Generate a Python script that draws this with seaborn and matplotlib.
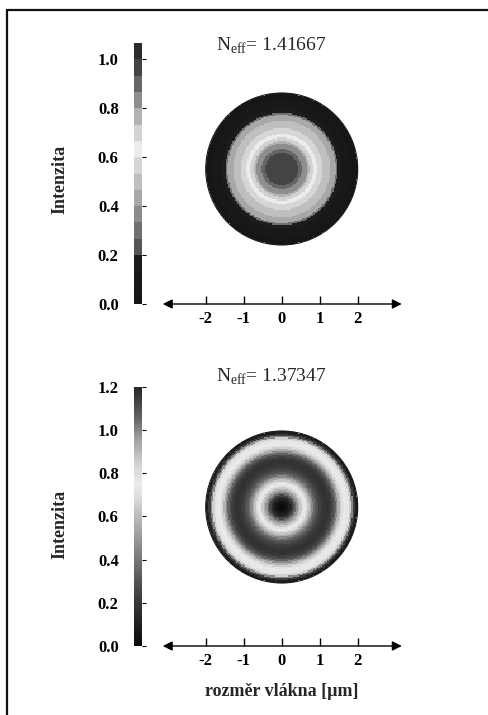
import numpy as np
import matplotlib
matplotlib.use("Agg")
import matplotlib.pyplot as plt
import seaborn as sns
from matplotlib.colors import ListedColormap, LinearSegmentedColormap
from matplotlib.patches import Circle
from matplotlib.lines import Line2D

# ---------------- data ----------------
RADII_UM = [0.00, 0.05, 0.10, 0.15, 0.20, 0.25, 0.30, 0.35, 0.40, 0.45,
            0.50, 0.55, 0.60, 0.65, 0.70, 0.75, 0.80, 0.85, 0.90, 0.95,
            1.00, 1.05, 1.10, 1.15, 1.20, 1.25, 1.30, 1.35, 1.40, 1.45,
            1.50, 1.55, 1.60, 1.65, 1.70, 1.75, 1.80, 1.85, 1.90, 1.95, 2.00]
FIBER_RADIUS_UM = 2.0

TOP_NEFF = "1.41667"
TOP_PROFILE = [0.99, 0.99, 0.985, 0.98, 0.975, 0.97, 0.96, 0.95, 0.935, 0.915,
               0.89, 0.865, 0.835, 0.80, 0.765, 0.725, 0.685, 0.655, 0.625, 0.595,
               0.57, 0.545, 0.52, 0.50, 0.485, 0.47, 0.45, 0.43, 0.41, 0.30,
               0.17, 0.15, 0.13, 0.12, 0.10, 0.09, 0.08, 0.06, 0.05, 0.04, 0.03]
TOP_VMAX = 1.065
TOP_CBAR_TICKS = [0.0, 0.2, 0.4, 0.6, 0.8, 1.0]

BOTTOM_NEFF = "1.37347"
BOTTOM_PROFILE = [0.00, 0.01, 0.03, 0.06, 0.10, 0.15, 0.24, 0.36, 0.48, 0.57,
                  0.64, 0.70, 0.74, 0.80, 0.87, 0.93, 0.99, 1.04, 1.08, 1.11,
                  1.13, 1.15, 1.16, 1.17, 1.17, 1.16, 1.14, 1.11, 1.06, 0.99,
                  0.92, 0.85, 0.79, 0.75, 0.73, 0.72, 0.66, 0.45, 0.22, 0.10, 0.05]
BOTTOM_VMAX = 1.2
BOTTOM_CBAR_TICKS = [0.0, 0.2, 0.4, 0.6, 0.8, 1.0, 1.2]

X_TICKS = [-2, -1, 0, 1, 2]
X_LABEL = "rozměr vlákna [µm]"
Y_LABEL = "Intenzita"

# ---------------- styles ----------------
TOP_GRAYS = ["#161616", "#181818", "#1c1c1c", "#555555", "#707070", "#8c8c8c",
             "#a8a8a8", "#bfbfbf", "#d6d6d6", "#ececec", "#d2d2d2", "#b2b2b2",
             "#8e8e8e", "#666666", "#444444", "#2c2c2c"]
BOTTOM_NODES = [(0.0, "#0a0a0a"), (0.1 / 1.2, "#202020"), (0.2 / 1.2, "#383838"),
                (0.3 / 1.2, "#555555"), (0.4 / 1.2, "#777777"), (0.5 / 1.2, "#999999"),
                (0.6 / 1.2, "#bbbbbb"), (0.7 / 1.2, "#e0e0e0"), (0.75 / 1.2, "#ececec"),
                (0.85 / 1.2, "#d0d0d0"), (0.95 / 1.2, "#a4a4a4"), (1.05 / 1.2, "#686868"),
                (1.15 / 1.2, "#3a3a3a"), (1.0, "#282828")]

sns.set_style("white")
plt.rcParams["font.family"] = ["Liberation Serif", "DejaVu Serif"]
plt.rcParams["mathtext.fontset"] = "custom"
plt.rcParams["mathtext.rm"] = "Liberation Serif"

W, H = 489, 715
fig = plt.figure(figsize=(W / 100, H / 100), dpi=100)
fig.patch.set_facecolor("white")


def fx(px):
    return px / W


def fy(py):
    return 1 - py / H


N_CELLS = 120
edges = np.linspace(-FIBER_RADIUS_UM, FIBER_RADIUS_UM, N_CELLS + 1)
centers = (edges[:-1] + edges[1:]) / 2
XX, YY = np.meshgrid(centers, centers)
RR = np.hypot(XX, YY)
step = RADII_UM[1] - RADII_UM[0]
IDX = np.clip(np.rint(RR / step).astype(int), 0, len(RADII_UM) - 1)
MASK = RR > FIBER_RADIUS_UM

X0_PX = 281.7
UNIT_PX = 38.0


def build(profile, vmax, cmap, ticks, neff, circle_cy, zero_y, px_per_unit,
          title_y, line_y, ylabel_y, xlabel=None):
    field = np.asarray(profile)[IDX]
    half = FIBER_RADIUS_UM * UNIT_PX
    ax = fig.add_axes([fx(X0_PX - half), fy(circle_cy + half),
                       2 * half / W, 2 * half / H])
    bar_len = vmax * px_per_unit
    cax = fig.add_axes([fx(134), fy(zero_y), 8.5 / W, bar_len / H])
    sns.heatmap(field, mask=MASK, cmap=cmap, vmin=0, vmax=vmax, ax=ax,
                cbar_ax=cax, xticklabels=False, yticklabels=False)
    ax.axis("off")
    mesh = ax.collections[0]
    clip = Circle((N_CELLS / 2, N_CELLS / 2), N_CELLS / 2, transform=ax.transData)
    mesh.set_clip_path(clip)
    ax.add_patch(Circle((N_CELLS / 2, N_CELLS / 2), N_CELLS / 2,
                        fill=False, edgecolor="#1a1a1a", lw=0.8, clip_on=False))

    cbar = mesh.colorbar
    cbar.set_ticks(ticks)
    cax.set_yticklabels([f"{t:.1f}" for t in ticks], fontweight="bold",
                        fontsize=12)
    cax.tick_params(axis="y", which="both", left=False, right=True,
                    labelleft=True, labelright=False, length=3, width=0.8,
                    direction="out", pad=8, colors="black")
    cax.minorticks_off()

    fig.text(fx(60), fy(ylabel_y), Y_LABEL, rotation=90, ha="center",
             va="center", fontsize=13, fontweight="bold")
    fig.text(fx(271), fy(title_y), "N$_{\\mathregular{eff}}$= " + neff,
             ha="center", va="baseline", fontsize=14)

    span = 3.4
    xax = fig.add_axes([fx(X0_PX - span * UNIT_PX), fy(line_y),
                        2 * span * UNIT_PX / W, 4 / H])
    xax.set_facecolor("none")
    for s in xax.spines.values():
        s.set_visible(False)
    xax.set_xlim(-span, span)
    xax.set_ylim(0, 1)
    xax.set_yticks([])
    xax.annotate("", xy=(3.16, 0), xytext=(-3.13, 0), xycoords="data",
                 arrowprops=dict(arrowstyle="<|-|>", color="black", lw=1.0,
                                 mutation_scale=14, shrinkA=0, shrinkB=0),
                 annotation_clip=False)
    xax.set_xticks(X_TICKS, labels=[f"{t:d}" for t in X_TICKS],
                   fontweight="bold", fontsize=12)
    xax.tick_params(axis="x", direction="in", length=6, width=1, pad=5,
                    bottom=True, top=False, colors="black")
    if xlabel:
        xax.set_xlabel(xlabel, fontsize=13, fontweight="bold", labelpad=10)


top_cmap = ListedColormap(TOP_GRAYS)
bottom_cmap = LinearSegmentedColormap.from_list("bw_bottom", BOTTOM_NODES, N=256)

build(TOP_PROFILE, TOP_VMAX, top_cmap, TOP_CBAR_TICKS, TOP_NEFF,
      circle_cy=169, zero_y=304, px_per_unit=245, title_y=51, line_y=304,
      ylabel_y=179)
build(BOTTOM_PROFILE, BOTTOM_VMAX, bottom_cmap, BOTTOM_CBAR_TICKS, BOTTOM_NEFF,
      circle_cy=507, zero_y=646, px_per_unit=216, title_y=382, line_y=646,
      ylabel_y=524, xlabel=X_LABEL)

fig.add_artist(Line2D([fx(7), 1.0], [fy(10), fy(10)], lw=1.6, color="#111111"))
fig.add_artist(Line2D([fx(7), fx(7)], [fy(10), 0.0], lw=1.6, color="#111111"))

fig.savefig("out.png", dpi=100)
